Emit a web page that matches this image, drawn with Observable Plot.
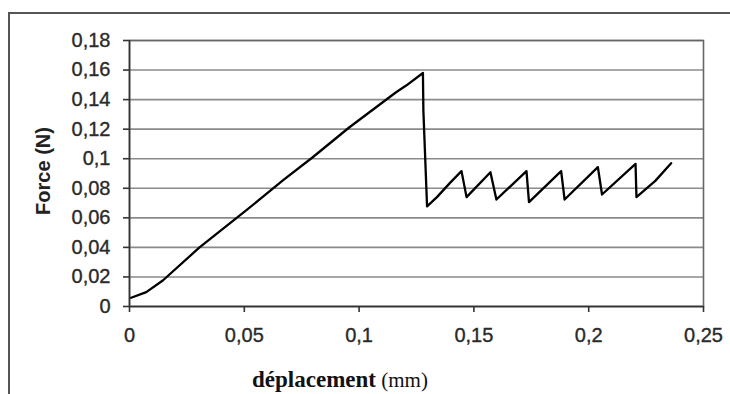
<!DOCTYPE html>
<html>
<head>
<meta charset="utf-8">
<script src="https://cdn.jsdelivr.net/npm/d3@7"></script>
<script src="https://cdn.jsdelivr.net/npm/@observablehq/plot@0.6"></script>
<style>
  html, body { margin: 0; padding: 0; background: #fff; }
  #wrap { position: relative; width: 730px; height: 394px; overflow: hidden; }
  #border { position: absolute; left: 8px; top: 12px; width: 730px; height: 400px;
            border-top: 2px solid #555; border-left: 2px solid #555; }
  #chart { position: absolute; left: 0; top: 0; }
  .ticklbl text { stroke: #2a2a2a; stroke-width: 0.35px; }
</style>
</head>
<body>
<div id="wrap"><div id="border"></div><div id="chart"></div></div>
<script>
// déplacement (mm)
const deplacement = [0.0007, 0.0073, 0.0145, 0.0305, 0.0508, 0.0668, 0.0798, 0.0958, 0.1161, 0.1205, 0.1278,
  0.1280, 0.1296, 0.1339, 0.1398, 0.1446, 0.1468, 0.1572, 0.1598, 0.1729, 0.1740, 0.1880, 0.1895,
  0.2040, 0.2058, 0.2204, 0.2208, 0.2290, 0.2359];
// Force (N)
const force = [0.0059, 0.0097, 0.0176, 0.0400, 0.0650, 0.0853, 0.1010, 0.1213, 0.1450, 0.1495, 0.1580,
  0.1324, 0.0677, 0.0740, 0.0840, 0.0916, 0.0740, 0.0909, 0.0724, 0.0916, 0.0706, 0.0916, 0.0724,
  0.0943, 0.0758, 0.0965, 0.0740, 0.0850, 0.0970];
const xTicks = [0, 0.05, 0.1, 0.15, 0.2, 0.25];
const yTicks = [0, 0.02, 0.04, 0.06, 0.08, 0.1, 0.12, 0.14, 0.16, 0.18];
const xLabelBold = "déplacement";
const xLabelUnit = "(mm)";
const yLabel = "Force (N)";

const data = deplacement.map((x, i) => ({x, y: force[i]}));
const fmt = d => String(+d.toFixed(2)).replace(".", ",");

const plot = Plot.plot({
  width: 730,
  height: 394,
  marginLeft: 129,
  marginRight: 27,
  marginTop: 40,
  marginBottom: 88,
  style: {fontFamily: "'Liberation Sans', Arial, sans-serif", fontSize: "20px", color: "#222", background: "transparent"},
  x: {domain: [0, 0.25], label: null},
  y: {domain: [0, 0.18], label: null},
  marks: [
    Plot.ruleY(yTicks, {stroke: "#8a8a8a", strokeWidth: 1.6}),
    Plot.frame({stroke: "#666", strokeWidth: 1.6}),
    Plot.ruleX([0], {stroke: "#333", strokeWidth: 1.6}),
    Plot.ruleY([0], {stroke: "#333", strokeWidth: 1.6}),
    Plot.axisX({ticks: xTicks, tickFormat: fmt, tickSize: 6, tickPadding: 15, stroke: "#333", strokeWidth: 1.6, fill: "#2a2a2a", fontSize: 20, label: null}),
    Plot.axisY({ticks: yTicks, tickFormat: fmt, tickSize: 6, tickPadding: 13, stroke: "#333", strokeWidth: 1.6, fill: "#2a2a2a", fontSize: 20, label: null}),
    Plot.line(data, {x: "x", y: "y", stroke: "#000", strokeWidth: 2.3, strokeLinejoin: "round"})
  ]
});
document.getElementById("chart").appendChild(plot);

const svg = d3.select(plot);
svg.selectAll("g[aria-label='x-axis tick label'], g[aria-label='y-axis tick label']").classed("ticklbl", true);
svg.append("text")
  .attr("transform", "translate(43,171) rotate(-90)")
  .attr("text-anchor", "middle")
  .attr("dominant-baseline", "central")
  .attr("font-family", "'Liberation Sans', Arial, sans-serif")
  .attr("font-weight", "bold")
  .attr("font-size", 20)
  .attr("fill", "#222")
  .text(yLabel);
const t = svg.append("text")
  .attr("x", 340)
  .attr("y", 387)
  .attr("text-anchor", "middle")
  .attr("font-family", "'Liberation Serif', 'Times New Roman', serif")
  .attr("fill", "#111");
t.append("tspan").attr("font-weight", "bold").attr("font-size", 23).text(xLabelBold);
t.append("tspan").attr("font-size", 21).text(" " + xLabelUnit);
</script>
</body>
</html>
